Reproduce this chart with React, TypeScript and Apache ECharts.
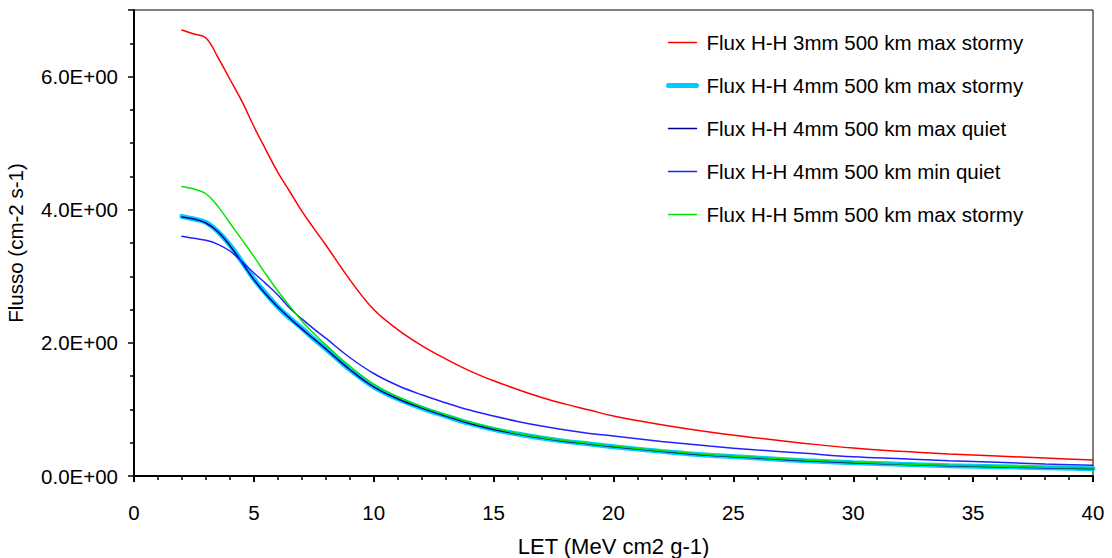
import React, { useEffect, useRef } from "react";
import * as echarts from "echarts";

const LET = [2, 2.5, 3, 3.5, 4, 4.5, 5, 5.5, 6, 6.5, 7, 7.5, 8, 9, 10, 11, 12, 13, 14, 15, 16, 17, 18, 19, 20, 22, 24, 26, 28, 30, 32, 34, 36, 38, 40];

const flux3mmMaxStormy = [6.70, 6.64, 6.58, 6.29, 5.96, 5.63, 5.25, 4.90, 4.56, 4.27, 3.98, 3.72, 3.47, 2.95, 2.50, 2.20, 1.96, 1.76, 1.58, 1.43, 1.30, 1.18, 1.08, 0.99, 0.90, 0.77, 0.66, 0.57, 0.49, 0.42, 0.37, 0.33, 0.30, 0.27, 0.24];
const flux4mmMaxStormy = [3.90, 3.86, 3.81, 3.67, 3.47, 3.22, 2.96, 2.74, 2.54, 2.37, 2.22, 2.06, 1.91, 1.60, 1.34, 1.16, 1.02, 0.90, 0.79, 0.70, 0.63, 0.57, 0.52, 0.48, 0.44, 0.37, 0.31, 0.27, 0.23, 0.20, 0.175, 0.155, 0.14, 0.125, 0.11];
const flux4mmMaxQuiet = [3.89, 3.86, 3.80, 3.67, 3.46, 3.21, 2.95, 2.73, 2.54, 2.37, 2.21, 2.06, 1.91, 1.60, 1.34, 1.16, 1.02, 0.90, 0.79, 0.70, 0.63, 0.57, 0.52, 0.48, 0.44, 0.37, 0.31, 0.27, 0.23, 0.20, 0.175, 0.155, 0.14, 0.125, 0.11];
const flux4mmMinQuiet = [3.60, 3.57, 3.54, 3.48, 3.38, 3.22, 3.05, 2.89, 2.72, 2.52, 2.36, 2.21, 2.07, 1.78, 1.54, 1.36, 1.22, 1.10, 0.99, 0.90, 0.82, 0.75, 0.69, 0.64, 0.60, 0.52, 0.45, 0.39, 0.34, 0.29, 0.26, 0.23, 0.205, 0.18, 0.16];
const flux5mmMaxStormy = [4.35, 4.31, 4.24, 4.05, 3.80, 3.55, 3.30, 3.03, 2.78, 2.55, 2.33, 2.14, 1.97, 1.65, 1.38, 1.19, 1.04, 0.92, 0.81, 0.72, 0.64, 0.58, 0.53, 0.49, 0.45, 0.38, 0.32, 0.28, 0.24, 0.21, 0.18, 0.16, 0.145, 0.13, 0.12];

const seriesNames = [
  "Flux H-H 3mm 500 km max stormy",
  "Flux H-H 4mm 500 km max stormy",
  "Flux H-H 4mm 500 km max quiet",
  "Flux H-H 4mm 500 km min quiet",
  "Flux H-H 5mm 500 km max stormy",
];
const seriesValues = [flux3mmMaxStormy, flux4mmMaxStormy, flux4mmMaxQuiet, flux4mmMinQuiet, flux5mmMaxStormy];
const seriesColors = ["#ff0000", "#00ccff", "#000099", "#2222ff", "#00e600"];
const seriesWidths = [1.5, 5, 1.5, 1.5, 1.5];

const FONT = "'Liberation Sans', Arial, sans-serif";

export default function App() {
  const ref = useRef<HTMLDivElement>(null);
  useEffect(() => {
    if (!ref.current) return;
    const chart = echarts.init(ref.current, null, { renderer: "svg" });
    chart.setOption({
      animation: false,
      backgroundColor: "#ffffff",
      textStyle: { fontFamily: FONT },
      grid: {
        left: 134, right: 19, top: 10, bottom: 82,
        containLabel: false,
        outerBoundsMode: "none",
        show: true, borderColor: "#000", borderWidth: 1, backgroundColor: "transparent",
      },
      legend: {
        orient: "vertical",
        left: 661,
        top: 27,
        itemWidth: 28,
        itemHeight: 20,
        itemGap: 22,
        itemStyle: { opacity: 0 },
        textStyle: { fontFamily: FONT, fontSize: 20.5, color: "#000", padding: [0, 0, 0, 5] },
        data: seriesNames.map((name, i) => ({ name, lineStyle: { width: seriesWidths[i], color: seriesColors[i], cap: "round" } })),
      },
      xAxis: {
        type: "value",
        min: 0,
        max: 40,
        interval: 5,
        name: "LET (MeV cm2 g-1)",
        nameLocation: "middle",
        nameGap: 59,
        nameTextStyle: { fontFamily: FONT, fontSize: 22, lineHeight: 22, color: "#000" },
        axisLine: { show: true, onZero: false, lineStyle: { color: "#000", width: 2 } },
        axisTick: { show: true, length: 6, lineStyle: { color: "#000", width: 2 } },
        minorTick: { show: true, splitNumber: 5, length: 4, lineStyle: { color: "#000", width: 1.5 } },
        axisLabel: { fontFamily: FONT, fontSize: 20.5, color: "#000", margin: 26 },
        splitLine: { show: false },
      },
      yAxis: {
        type: "value",
        min: 0,
        max: 7,
        interval: 2,
        name: "Flusso (cm-2 s-1)",
        nameLocation: "middle",
        nameGap: 108,
        nameTextStyle: { fontFamily: FONT, fontSize: 20.5, color: "#000" },
        axisLine: { show: true, lineStyle: { color: "#000", width: 2 } },
        axisTick: { show: true, length: 6, lineStyle: { color: "#000", width: 1.5 } },
        minorTick: { show: true, splitNumber: 4, length: 4, lineStyle: { color: "#000", width: 1.5 } },
        axisLabel: {
          fontFamily: FONT,
          fontSize: 20.5,
          color: "#000",
          margin: 16,
          showMaxLabel: false,
          formatter: (v: number) => (Math.abs(v % 2) < 1e-9 ? v.toFixed(1) + "E+00" : ""),
        },
        splitLine: { show: false },
      },
      series: seriesNames.map((name, i) => ({
        name,
        type: "line",
        showSymbol: false,
        symbol: "none",
        smooth: 0.4,
        color: seriesColors[i],
        lineStyle: { color: seriesColors[i], width: seriesWidths[i], cap: "round" },
        data: LET.map((x, j) => [x, seriesValues[i][j]]),
        z: 2 + i,
      })),
    });
    return () => chart.dispose();
  }, []);
  return <div ref={ref} style={{ position: "fixed", left: 0, top: 0, width: 1112, height: 558 }} />;
}
